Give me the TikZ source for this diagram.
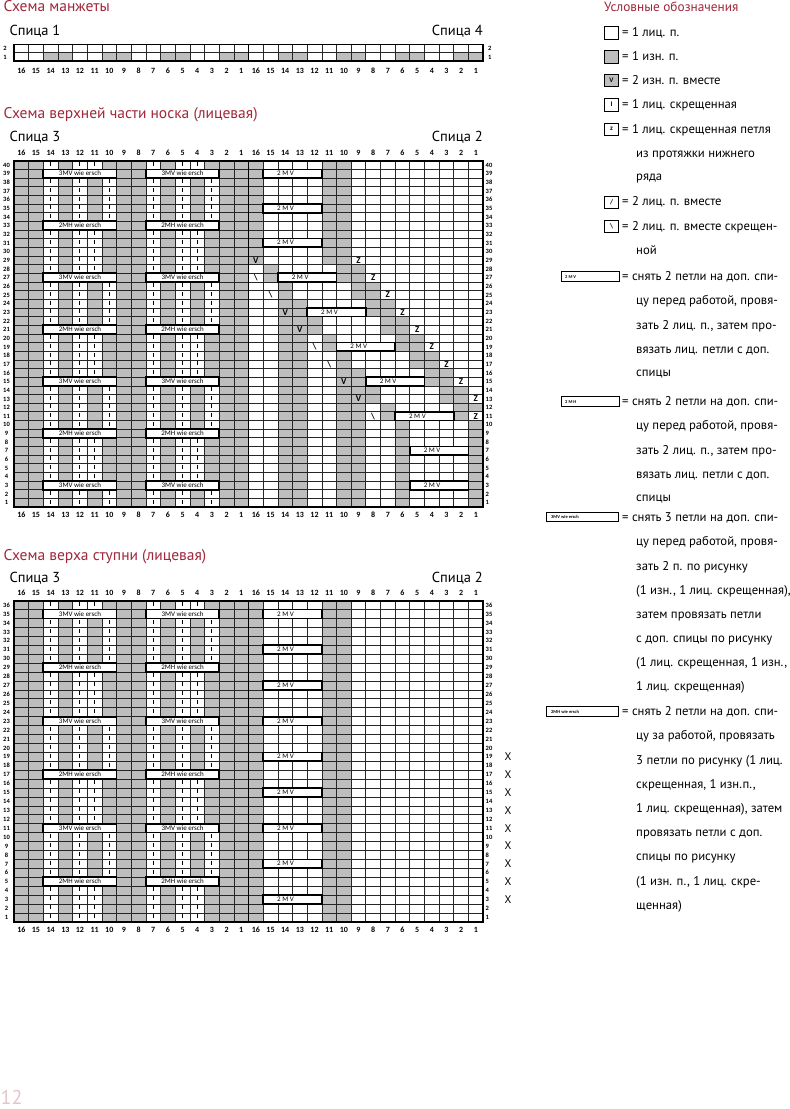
\documentclass[tikz,border=0pt]{standalone}
\usepackage{fontspec}
\setmainfont{PT Sans}
\newfontfamily\chartfont{Carlito}
\definecolor{titlered}{RGB}{160,40,58}
\definecolor{cellgray}{RGB}{190,190,190}
\definecolor{pagenum}{RGB}{226,198,202}
\def\gx{14}
\def\cw{14.66}
\def\bs{\textbackslash}
\newcommand\setchart[3]{\def\ctop{#1}\def\rh{#2}\def\nrows{#3}}
\newcommand\gcell[2]{\fill[cellgray] ({\gx+(#1-1)*\cw},{\ctop+(\nrows-#2)*\rh}) rectangle ++(\cw,\rh);}
\newcommand\wcell[2]{\fill[white] ({\gx+(#1-1)*\cw},{\ctop+(\nrows-#2)*\rh}) rectangle ++(\cw,\rh);}
\newcommand\gcol[1]{\fill[cellgray] ({\gx+(#1-1)*\cw},\ctop) rectangle ++(\cw,{\nrows*\rh});}
\newcommand\csym[3]{\node[sym] at ({\gx+(#1-0.5)*\cw},{\ctop+(\nrows-#2+0.5)*\rh}) {#3};}
\newcommand\tickmark[2]{\draw[tickline] ({\gx+(#1-0.5)*\cw},{\ctop+(\nrows-#2)*\rh+1.3}) -- ++(0,4);}
\newcommand\cablebox[5]{%
  \draw[cable] ({\gx+(#1-1)*\cw},{\ctop+(\nrows-#3)*\rh}) rectangle ++({#2*\cw},\rh);
  \node[cabletext] at ({\gx+(#1-1+#2*#5)*\cw},{\ctop+(\nrows-#3+0.5)*\rh}) {#4};}
\newcommand\chartgrid{%
  \foreach \i in {1,...,31}{\draw[gridline] ({\gx+\i*\cw},\ctop) -- ++(0,{\nrows*\rh});}
  \foreach \j in {1,...,\nrows}{\draw[gridline] (\gx,{\ctop+\j*\rh}) -- ++({32*\cw},0);}
  \draw[chartframe] (\gx,\ctop) rectangle ++({32*\cw},{\nrows*\rh});
  \draw[chartframe] ({\gx+16*\cw},\ctop) -- ++(0,{\nrows*\rh});}
\newcommand\collabels[1]{%
  \foreach \p in {1,...,32}{\pgfmathtruncatemacro\cn{\p>16 ? 33-\p : 17-\p}%
    \node[collab] at ({\gx+(\p-0.5)*\cw},#1) {\cn};}}
\newcommand\rowlabels[2]{%
  \foreach \rr in {1,...,\nrows}{%
    \node[rowlab] at (#1,{\ctop+(\nrows-\rr+0.5)*\rh}) {\rr};
    \node[rowlab,anchor=west] at (#2,{\ctop+(\nrows-\rr+0.5)*\rh}) {\rr};}}
\newcommand\leftfill[1]{%
  \foreach \cc in {16,15,13,9,8,6,2,1}{\pgfmathtruncatemacro\pp{17-\cc}\gcol{\pp}}
  \foreach \rr in {1,...,\nrows}{%
    \pgfmathtruncatemacro\m{mod(\rr-#1+120,12)}%
    \ifnum\m>0 \ifnum\m<6 \gcell{7}{\rr}\gcell{14}{\rr}\fi\fi
    \ifnum\m>6 \gcell{6}{\rr}\gcell{13}{\rr}\fi}}
\newcommand\leftmarks[1]{%
  \foreach \rr in {1,...,\nrows}{%
    \pgfmathtruncatemacro\m{mod(\rr-#1+120,12)}%
    \ifnum\m=0 \cablebox{3}{5}{\rr}{3MV wie ersch}{0.5}\cablebox{10}{5}{\rr}{3MV wie ersch}{0.5}\fi
    \ifnum\m=6 \cablebox{3}{5}{\rr}{2MH wie ersch}{0.5}\cablebox{10}{5}{\rr}{2MH wie ersch}{0.5}\fi
    \ifnum\m>0 \ifnum\m<6 \foreach \pp in {3,5,6,10,12,13}{\tickmark{\pp}{\rr}}\fi\fi
    \ifnum\m>6 \foreach \pp in {3,5,7,10,12,14}{\tickmark{\pp}{\rr}}\fi}}
\tikzset{
 gridline/.style={draw=black!85, line width=0.7pt},
 chartframe/.style={draw=black, line width=1.6pt},
 cable/.style={draw=black, line width=1.7pt, fill=white},
 cabletext/.style={inner sep=0, text height=4.5pt, text depth=0.5pt, font=\chartfont\fontsize{7}{7}\selectfont},
 sym/.style={inner sep=0, text height=6pt, text depth=0pt, font=\chartfont\bfseries\fontsize{9}{9}\selectfont},
 tickline/.style={draw=black, line width=1pt},
 collab/.style={inner sep=0, text height=5.2pt, text depth=0pt, font=\chartfont\bfseries\fontsize{8}{8}\selectfont},
 rowlab/.style={inner sep=0, text height=4.3pt, text depth=0pt, font=\chartfont\bfseries\fontsize{6.5}{6.5}\selectfont},
 charttitle/.style={anchor=base west, inner sep=0, text=titlered, font=\fontsize{15.5}{18}\selectfont},
 spica/.style={inner sep=0, font=\fontsize{14.5}{17}\selectfont},
 legtext/.style={anchor=base west, inner sep=0, font=\fontsize{12.7}{15}\selectfont},
 legbox/.style={draw=black, line width=0.9pt, minimum width=14.5pt, minimum height=12.5pt, inner sep=0, font=\chartfont\bfseries\fontsize{7}{7}\selectfont},
 legcable/.style={draw=black, line width=0.9pt, fill=white},
 legcabletext/.style={inner sep=0, anchor=west, font=\chartfont\bfseries\fontsize{4.5}{4.5}\selectfont},
 xmark/.style={inner sep=0, font=\fontsize{11}{11}\selectfont},
}
\begin{document}
\begin{tikzpicture}[x=1pt,y=-1pt]
\useasboundingbox (0,0) rectangle (790,1109);
\fill[white] (0,0) rectangle (790,1109);

% ================= cuff chart
\node[charttitle] (t1) at (3.3,11) {Схема манжеты};
\node[spica,anchor=base west] (s1) at (9.3,35.7) {Спица 1};
\node[spica,anchor=base east] (s4) at (483,35.7) {Спица 4};
\setchart{44.5}{8.3}{2}
\foreach \cc in {14,13,10,9,6,5,2,1}{\pgfmathtruncatemacro\pp{17-\cc}\gcell{\pp}{1}\pgfmathtruncatemacro\pp{33-\cc}\gcell{\pp}{1}}
\chartgrid
\collabels{70.7}
\rowlabels{5}{488}

% ================= upper part chart
\node[charttitle] (t2) at (3.3,118) {Схема верхней части носка (лицевая)};
\node[spica,anchor=base west] (s3a) at (9.3,141.5) {Спица 3};
\node[spica,anchor=base east] (s2a) at (483,141.5) {Спица 2};
\setchart{160.7}{8.66}{40}
\leftfill{3}
\foreach \rr in {1,...,40}{%
  \pgfmathtruncatemacro\LL{max(6,min(16,floor((\rr+3)/2)))}%
  \foreach \cc in {1,...,16}{%
    \pgfmathtruncatemacro\g{((\cc>\LL)&&((mod(\cc,4)==1)||(mod(\cc,4)==2)))||(\cc==\LL)||(\cc==\LL-5)||(\cc==\LL-6)}%
    \ifnum\g=1 \pgfmathtruncatemacro\pp{33-\cc}\gcell{\pp}{\rr}\fi}}
\wcell{32}{11}
\chartgrid
\leftmarks{3}
\foreach \rr/\dd/\ss/\zz in {11/8/\bs/1,13/9/V/1,15/10/V/2,17/11/\bs/3,19/12/\bs/4,21/13/V/5,23/14/V/6,25/15/\bs/7,27/16/\bs/8,29/16/V/9}{%
  \pgfmathtruncatemacro\pp{33-\dd}\csym{\pp}{\rr}{\ss}%
  \pgfmathtruncatemacro\pp{33-\zz}\csym{\pp}{\rr}{Z}}
\foreach \rr in {3,7,...,39}{%
  \pgfmathtruncatemacro\LL{max(6,min(16,floor((\rr+3)/2)))}%
  \pgfmathtruncatemacro\pp{34-\LL}%
  \cablebox{\pp}{4}{\rr}{2 M V}{0.38}}
\collabels{153.3}
\collabels{515}
\rowlabels{6.5}{485.5}

% ================= foot chart
\node[charttitle] (t3) at (3.3,560.5) {Схема верха ступни (лицевая)};
\node[spica,anchor=base west] (s3b) at (9.3,582) {Спица 3};
\node[spica,anchor=base east] (s2b) at (483,582) {Спица 2};
\setchart{600.7}{8.92}{36}
\leftfill{11}
\gcol{17}\gcol{22}\gcol{23}
\chartgrid
\leftmarks{11}
\foreach \rr in {3,7,...,35}{\cablebox{18}{4}{\rr}{2 M V}{0.38}}
\collabels{593}
\collabels{930}
\rowlabels{6.5}{485.5}
\foreach \rr in {3,5,...,19}{\node[xmark] at (508,{\ctop+(\nrows-\rr+0.5)*\rh}) {X};}

% ================= legend
\node[charttitle,font=\fontsize{13.3}{16}\selectfont] (lt) at (604,11.7) {Условные обозначения};
\node[legbox,fill=white] (k1) at (611.5,32.8) {};
\node[legbox,fill=cellgray] (k2) at (611.5,56.7) {};
\node[legbox,fill=cellgray] (k3) at (611.5,80.4) {V};
\node[legbox,fill=white] (k4) at (611.5,104.7) {I};
\node[legbox,fill=white] (k5) at (611.5,129.2) {z};
\node[legbox,fill=white] (k6) at (611.5,202.5) {/};
\node[legbox,fill=white] (k7) at (611.5,226.2) {\textbackslash};
\draw[legcable] (561.7,271.7) rectangle (619,281.7);
\node[legcabletext] (k8) at (565,276.7) {2 M V};
\draw[legcable] (561.7,396.7) rectangle (619,406.7);
\node[legcabletext] (k9) at (565,401.7) {2 M H};
\draw[legcable] (546.7,512.7) rectangle (618.3,521.7);
\node[legcabletext] (k10) at (551,517.2) {3MV wie ersch};
\draw[legcable] (546.7,706.7) rectangle (618.3,716.7);
\node[legcabletext] (k11) at (551,711.7) {2MH wie ersch};

\node[legtext] (l1) at (622,36.5) {= 1 лиц. п.};
\node[legtext] (l2) at (622,60.2) {= 1 изн. п.};
\node[legtext] (l3) at (622,84.2) {= 2 изн. п. вместе};
\node[legtext] (l4) at (622,108.2) {= 1 лиц. скрещенная};
\node[legtext] (l5) at (622,133.2) {= 1 лиц. скрещенная петля};
\node[legtext] (l6) at (636,157.5) {из протяжки нижнего};
\node[legtext] (l7) at (636,180.9) {ряда};
\node[legtext] (l8) at (622,205.2) {= 2 лиц. п. вместе};
\node[legtext] (l9) at (622,230.2) {= 2 лиц. п. вместе скрещен-};
\node[legtext] (l10) at (636,254.5) {ной};
\node[legtext] (l11) at (622,280.9) {= снять 2 петли на доп. спи-};
\node[legtext] (l12) at (636,304.9) {цу перед работой, провя-};
\node[legtext] (l13) at (636,329.2) {зать 2 лиц. п., затем про-};
\node[legtext] (l14) at (636,353.2) {вязать лиц. петли с доп.};
\node[legtext] (l15) at (636,376.9) {спицы};
\node[legtext] (l16) at (622,405.9) {= снять 2 петли на доп. спи-};
\node[legtext] (l17) at (636,429.9) {цу перед работой, провя-};
\node[legtext] (l18) at (636,454.2) {зать 2 лиц. п., затем про-};
\node[legtext] (l19) at (636,478.2) {вязать лиц. петли с доп.};
\node[legtext] (l20) at (636,501.9) {спицы};
\node[legtext] (l21) at (622,521.5) {= снять 3 петли на доп. спи-};
\node[legtext] (l22) at (636,545.9) {цу перед работой, провя-};
\node[legtext] (l23) at (636,570.2) {зать 2 п. по рисунку};
\node[legtext] (l24) at (636,594.2) {(1 изн., 1 лиц. скрещенная),};
\node[legtext] (l25) at (636,618.2) {затем провязать петли};
\node[legtext] (l26) at (636,642.5) {с доп. спицы по рисунку};
\node[legtext] (l27) at (636,666.5) {(1 лиц. скрещенная, 1 изн.,};
\node[legtext] (l28) at (636,690.9) {1 лиц. скрещенная)};
\node[legtext] (l29) at (622,715.9) {= снять 2 петли на доп. спи-};
\node[legtext] (l30) at (636,739.9) {цу за работой, провязать};
\node[legtext] (l31) at (636,764.2) {3 петли по рисунку (1 лиц.};
\node[legtext] (l32) at (636,788.2) {скрещенная, 1 изн.п.,};
\node[legtext] (l33) at (636,812.5) {1 лиц. скрещенная), затем};
\node[legtext] (l34) at (636,836.5) {провязать петли с доп.};
\node[legtext] (l35) at (636,860.9) {спицы по рисунку};
\node[legtext] (l36) at (636,885.2) {(1 изн. п., 1 лиц. скре-};
\node[legtext] (l37) at (636,909.2) {щенная)};

\node[anchor=base west, inner sep=0, text=pagenum, font=\fontsize{20}{20}\selectfont] (pg) at (0.5,1104.5) {12};
\end{tikzpicture}
\end{document}
